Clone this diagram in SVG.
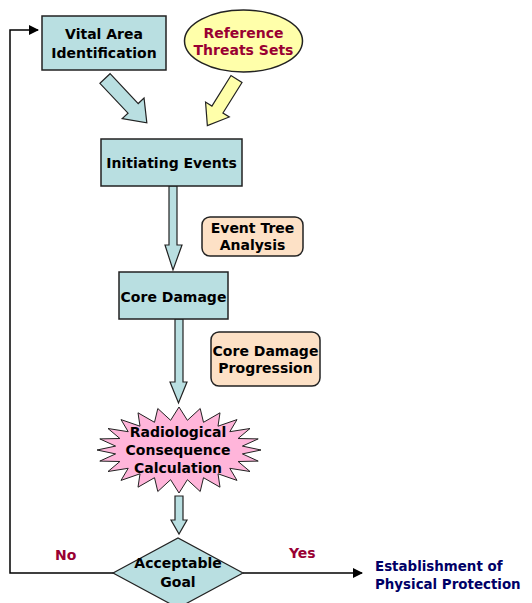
<svg xmlns="http://www.w3.org/2000/svg" width="532" height="603" viewBox="0 0 532 603">
<defs>
<style>
.box{fill:#B9DFE1;stroke:#222;stroke-width:1.5}
.peach{fill:#FDE1C6;stroke:#222;stroke-width:1.5}
.t{font-family:"DejaVu Sans",Verdana,sans-serif;font-weight:bold;font-size:14px;fill:#000;text-anchor:middle}
.red{fill:#990033}
.navy{fill:#000066;text-anchor:start;font-size:13.4px}
.line{fill:none;stroke:#000;stroke-width:1.5}
.barrow{fill:#B9DFE1;stroke:#222;stroke-width:1.2}
</style>
<marker id="ah" markerWidth="10" markerHeight="10" refX="9" refY="5" orient="auto" markerUnits="userSpaceOnUse">
<path d="M0,0 L10,5 L0,10 Z" fill="#000"/>
</marker>
</defs>
<rect width="532" height="603" fill="#fff"/>
<g id="connectors">
<path class="line" d="M115,573 H10 V30 H38" marker-end="url(#ah)"/>
<path class="line" d="M243,573 H362" marker-end="url(#ah)"/>
<path class="barrow" transform="translate(105,78.5) rotate(46.7)" d="M0,-7 L41,-7 L41,-15 L61,0 L41,15 L41,7 L0,7 Z"/>
<path class="barrow" style="fill:#FFFFAA" transform="translate(236.5,79) rotate(122)" d="M0,-6.5 L36,-6.5 L36,-14 L55,0 L36,14 L36,6.5 L0,6.5 Z"/>
<path class="barrow" d="M169,186 V245 H165 L173,270 L182,245 H177 V186 Z"/>
<path class="barrow" d="M175,319 V382 H170 L178.5,403 L187,382 H183 V319 Z"/>
<path class="barrow" d="M175,496 V520 H171 L179,534 L187,520 H183 V496 Z"/>
</g>
<g id="vital">
<rect class="box" x="42" y="16" width="124" height="54"/>
<text class="t" x="104" y="39">Vital Area</text>
<text class="t" x="104" y="58">Identification</text>
</g>
<g id="threats">
<ellipse cx="243.5" cy="41" rx="59" ry="31" fill="#FFFFAA" stroke="#222" stroke-width="1.5"/>
<text class="t red" x="243.5" y="38">Reference</text>
<text class="t red" x="243.5" y="55">Threats Sets</text>
</g>
<g id="initiating">
<rect class="box" x="101" y="139" width="141" height="47"/>
<text class="t" x="171.5" y="168">Initiating Events</text>
</g>
<g id="eventtree">
<rect class="peach" x="202" y="217" width="101" height="39" rx="8"/>
<text class="t" x="252.5" y="233">Event Tree</text>
<text class="t" x="252.5" y="250">Analysis</text>
</g>
<g id="coredamage">
<rect class="box" x="119" y="272" width="109" height="47"/>
<text class="t" x="173.5" y="302">Core Damage</text>
</g>
<g id="progression">
<rect class="peach" x="211" y="332" width="109" height="54" rx="8"/>
<text class="t" x="265.5" y="356">Core Damage</text>
<text class="t" x="265.5" y="373">Progression</text>
</g>
<g id="radiological">
<polygon fill="#FFB5DA" stroke="#222" stroke-width="1" points="261,450 242.4,453.9 258.2,461.1 238.1,461.5 250,471.5 229.8,468.3 237,480.4 218,473.8 220,487.2 203.5,477.7 200.2,491.5 187.4,479.7 179,493 170.6,479.7 157.8,491.5 154.5,477.7 138,487.2 140,473.8 121,480.4 128.2,468.3 108,471.5 119.9,461.5 99.8,461.1 115.6,453.9 97,450 115.6,446.1 99.8,438.9 119.9,438.5 108,428.5 128.2,431.7 121,419.6 140,426.2 138,412.8 154.5,422.3 157.8,408.5 170.6,420.3 179,407 187.4,420.3 200.2,408.5 203.5,422.3 220,412.8 218,426.2 237,419.6 229.8,431.7 250,428.5 238.1,438.5 258.2,438.9 242.4,446.1"/>
<text class="t" x="178" y="437">Radiological</text>
<text class="t" x="178" y="455">Consequence</text>
<text class="t" x="178" y="473">Calculation</text>
</g>
<g id="goal">
<polygon fill="#B9DFE1" stroke="#222" stroke-width="1.2" points="113,573 178,538 243,573 178,608"/>
<text class="t" x="178" y="568">Acceptable</text>
<text class="t" x="178" y="587">Goal</text>
</g>
<g id="labels">
<text class="t red" x="55" y="560" style="text-anchor:start">No</text>
<text class="t red" x="289" y="558" style="text-anchor:start">Yes</text>
</g>
<g id="establishment">
<text class="t navy" x="375" y="571">Establishment of</text>
<text class="t navy" x="375" y="589">Physical Protection</text>
</g>
</svg>
